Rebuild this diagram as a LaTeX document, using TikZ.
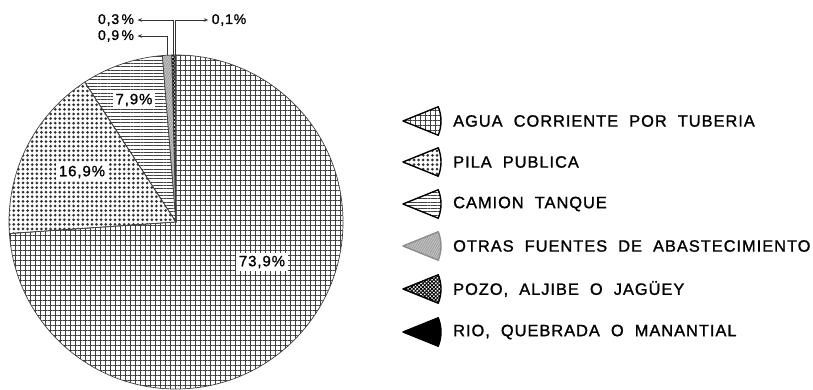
\documentclass[tikz,border=0pt]{standalone}
\usepackage{fontspec}
\setmainfont{Liberation Sans}
\newfontfamily\legfont[LetterSpace=6,WordSpace=2,FakeBold=1.2]{Liberation Sans}
\newfontfamily\pctfont[LetterSpace=6,FakeBold=1]{Liberation Sans}
\usetikzlibrary{patterns.meta,arrows.meta}
\tikzset{
  outl/.style={draw=black!75, line width=0.7pt},
  gridpat/.style={pattern={Hatch[distance=5pt,line width=0.55pt]}, pattern color=black!75},
  dotpat/.style={pattern={Dots[distance=4.6pt,radius=1.5pt]}, pattern color=black!80},
  hlinepat/.style={pattern={Lines[distance=3.3pt,angle=0,line width=0.6pt]}, pattern color=black!75},
  otrapat/.style={pattern={Lines[distance=2pt,angle=60,line width=0.4pt]}, pattern color=black!45},
  pozopat/.style={pattern={Hatch[distance=2.6pt,angle=45,line width=0.9pt]}, pattern color=black},
  pctlab/.style={font=\pctfont\fontsize{14}{14}\selectfont},
  inlab/.style={font=\pctfont\fontsize{15}{15}\selectfont, fill=white, inner sep=2.5pt},
  legtext/.style={anchor=west, inner sep=0pt, font=\legfont\fontsize{16.4}{17}\selectfont},
  leader/.style={draw=black!80, line width=0.7pt, -{Stealth[length=4.5pt,width=3.5pt]}},
  iconout/.style={draw=black, line width=1.4pt, line join=round}
}
\newcommand\mywedge[4]{% start, end, style, name-free
  \fill[#3] (C) -- ++(#1:167pt) arc[start angle=#1, end angle=#2, radius=167pt] -- cycle;
  \draw[outl] (C) -- ++(#1:167pt) arc[start angle=#1, end angle=#2, radius=167pt] -- cycle;
}
\newcommand\myicon[3]{% y, fill style, name
  \coordinate (#3) at (403,#1);
  \fill[#2] (#3) -- ++(-22:38pt) arc[start angle=-22, end angle=22, radius=38pt] -- cycle;
  \draw[iconout] (#3) -- ++(-22:38pt) arc[start angle=-22, end angle=22, radius=38pt] -- cycle;
}
\begin{document}
\begin{tikzpicture}[x=1pt,y=1pt]
\fill[white] (0,0) rectangle (813,390);
\useasboundingbox (0,0) rectangle (813,390);
\coordinate (C) at (176,168);
% pie slices
\mywedge{-176.04}{90}{gridpat}{}
\mywedge{123.12}{183.96}{dotpat}{}
\mywedge{94.68}{123.12}{hlinepat}{}
\fill[black!25] (C) -- ++(91.44:167pt) arc[start angle=91.44, end angle=94.68, radius=167pt] -- cycle;
\mywedge{91.44}{94.68}{otrapat}{}
\mywedge{90.36}{91.44}{pozopat}{}
\mywedge{90}{90.36}{fill=black}{}
% leader points
\path (C) ++(93.06:167pt) coordinate (p09);
\path (C) ++(90.9:167pt) coordinate (p03);
\path (C) ++(90.18:167pt) coordinate (p01);
\node[pctlab] (l03) at (116,370) {0,3\,\%};
\node[pctlab] (l09) at (116,354) {0,9\,\%};
\node[pctlab] (l01) at (229,370) {0,1\%};
\draw[leader] (p03) |- (l03.east);
\draw[leader] (p09) |- (l09.east);
\draw[leader] (p01) |- (l01.west);
% inner labels
\node[inlab] (l79) at (134,290) {7,9\%};
\node[inlab] (l169) at (82,218) {16,9\%};
\node[inlab] (l739) at (262,128) {73,9\%};
% legend
\myicon{269}{gridpat}{i1}
\myicon{228}{dotpat}{i2}
\myicon{186}{hlinepat}{i3}
\fill[black!25] (403,144) -- ++(-22:38pt) arc[start angle=-22, end angle=22, radius=38pt] -- cycle;
\coordinate (i4) at (403,144);
\fill[otrapat] (i4) -- ++(-22:38pt) arc[start angle=-22, end angle=22, radius=38pt] -- cycle;
\draw[draw=black!45, line width=1.4pt, line join=round] (i4) -- ++(-22:38pt) arc[start angle=-22, end angle=22, radius=38pt] -- cycle;
\myicon{101}{pozopat}{i5}
\myicon{58}{fill=black}{i6}
\node[legtext] (t1) at (453,269) {AGUA CORRIENTE POR TUBERIA};
\node[legtext] (t2) at (453,228) {PILA PUBLICA};
\node[legtext] (t3) at (453,186) {CAMION TANQUE};
\node[legtext] (t4) at (453,144) {OTRAS FUENTES DE ABASTECIMIENTO};
\node[legtext] (t5) at (453,101) {POZO, ALJIBE O JAGÜEY};
\node[legtext] (t6) at (453,58) {RIO, QUEBRADA O MANANTIAL};
\end{tikzpicture}
\end{document}
